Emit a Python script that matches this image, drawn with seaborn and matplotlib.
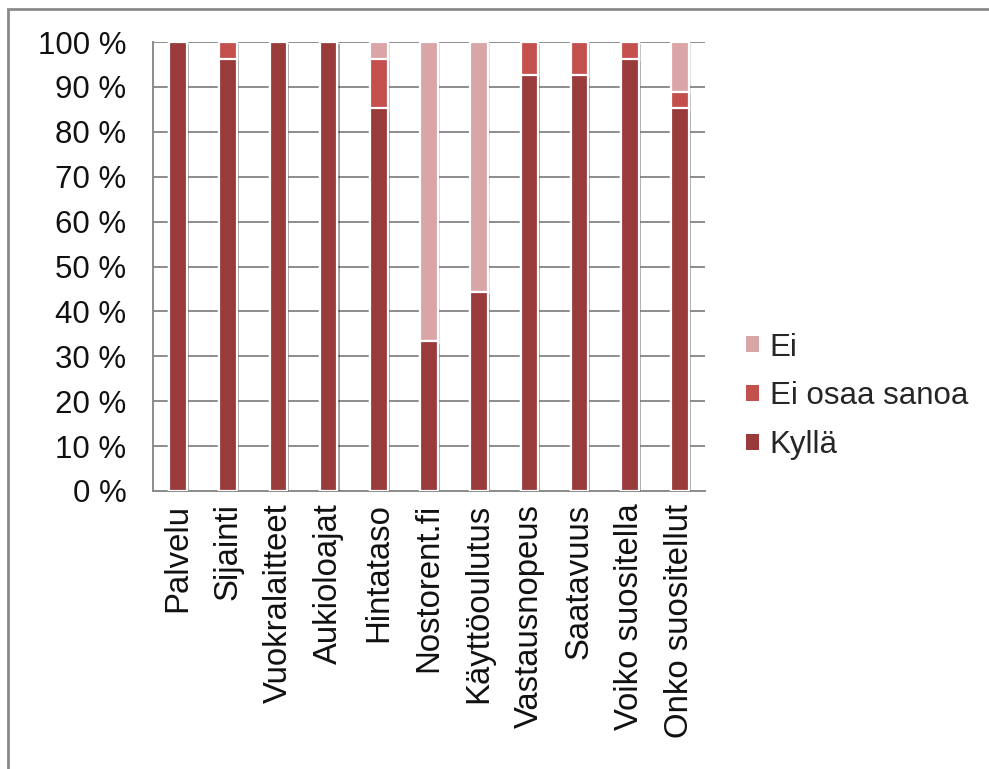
import matplotlib
matplotlib.use("Agg")
import matplotlib.pyplot as plt
import matplotlib.patches as mpatches
import matplotlib.patheffects as pe
from matplotlib.ticker import FixedLocator, FuncFormatter
import seaborn as sns
import pandas as pd

# Survey answers, share of respondents (%)
categories = ["Palvelu", "Sijainti", "Vuokralaitteet", "Aukioloajat", "Hintataso",
              "Nostorent.fi", "Käyttöoulutus", "Vastausnopeus", "Saatavuus",
              "Voiko suositella", "Onko suositellut"]
kylla = [100.0, 96.3, 100.0, 100.0, 85.2, 33.3, 44.4, 92.6, 92.6, 96.3, 85.2]
ei_osaa = [0.0, 3.7, 0.0, 0.0, 11.1, 0.0, 0.0, 7.4, 7.4, 3.7, 3.7]
ei = [0.0, 0.0, 0.0, 0.0, 3.7, 66.7, 55.6, 0.0, 0.0, 0.0, 11.1]
series_names = ["Ei", "Ei osaa sanoa", "Kyllä"]
y_ticks = list(range(0, 101, 10))

colors = {"Kyllä": "#9A3B3B", "Ei osaa sanoa": "#C4504E", "Ei": "#D9A5A6"}

df = pd.DataFrame({"kategoria": categories, "Kyllä": kylla,
                   "Ei osaa sanoa": ei_osaa, "Ei": ei})
# cumulative tops for stacking: Kyllä at the bottom, Ei on top
df["top_kylla"] = df["Kyllä"]
df["top_eos"] = df["Kyllä"] + df["Ei osaa sanoa"]
df["top_ei"] = df["top_eos"] + df["Ei"]

sns.set_style("white")
plt.rcParams["font.family"] = ["Liberation Sans", "DejaVu Sans"]

FS = 22.5

fig = plt.figure(figsize=(9.89, 7.69), dpi=100)
ax = fig.add_axes([153 / 989, 278 / 769, 552 / 989, 449 / 769])

shadow = [pe.SimplePatchShadow(offset=(1.5, -1.5), shadow_rgbFace="#000000", alpha=0.14), pe.Normal()]
for col, name in [("top_ei", "Ei"), ("top_eos", "Ei osaa sanoa"), ("top_kylla", "Kyllä")]:
    sns.barplot(data=df, x="kategoria", y=col, color=colors[name], width=0.35,
                edgecolor="white", linewidth=1.6, saturation=1, ax=ax, zorder=3)
for p in ax.patches:
    p.set_path_effects(shadow)

ax.set_ylim(0, 100)
ax.set_xlim(-0.5, len(categories) - 0.5)
ax.set_xlabel("")
ax.set_ylabel("")

ax.yaxis.set_major_locator(FixedLocator(y_ticks))
ax.yaxis.set_major_formatter(FuncFormatter(lambda v, _: f"{int(v)} %"))
ax.grid(axis="y", color="#8C8C8C", linewidth=1.4, zorder=0)
ax.set_axisbelow(True)

ax.set_xticks(range(len(categories)))
ax.set_xticklabels(categories, rotation=90, va="top", ha="center")
ax.set_xticks([i - 0.5 for i in range(len(categories) + 1)], minor=True)
ax.tick_params(axis="x", which="major", length=0, pad=9, labelsize=FS + 1.2, colors="#111111")
ax.tick_params(axis="x", which="minor", length=7, width=1.4, color="#8C8C8C", direction="out")
ax.tick_params(axis="y", which="major", length=7, width=1.4, color="#8C8C8C",
               direction="out", pad=12, labelsize=FS, labelcolor="#111111")

for s in ["top", "right"]:
    ax.spines[s].set_visible(False)
for s in ["left", "bottom"]:
    ax.spines[s].set_color("#8C8C8C")
    ax.spines[s].set_linewidth(1.4)

handles = [mpatches.Patch(facecolor=colors[n], edgecolor="none") for n in series_names]
fig.legend(handles, series_names, loc="upper left", bbox_to_anchor=(733 / 989, 1 - 320 / 769),
           frameon=False, fontsize=FS, handlelength=0.42, handleheight=0.42,
           handletextpad=0.35, labelspacing=0.6, borderaxespad=0)

# outer chart frame
fig.patches.append(mpatches.Rectangle((7.5 / 989, -0.2), 1.2, 1.2 - 9 / 769, transform=fig.transFigure,
                                      fill=False, edgecolor="#8A8A8A", linewidth=2.0))

fig.savefig("out.png", dpi=100, facecolor="white")
